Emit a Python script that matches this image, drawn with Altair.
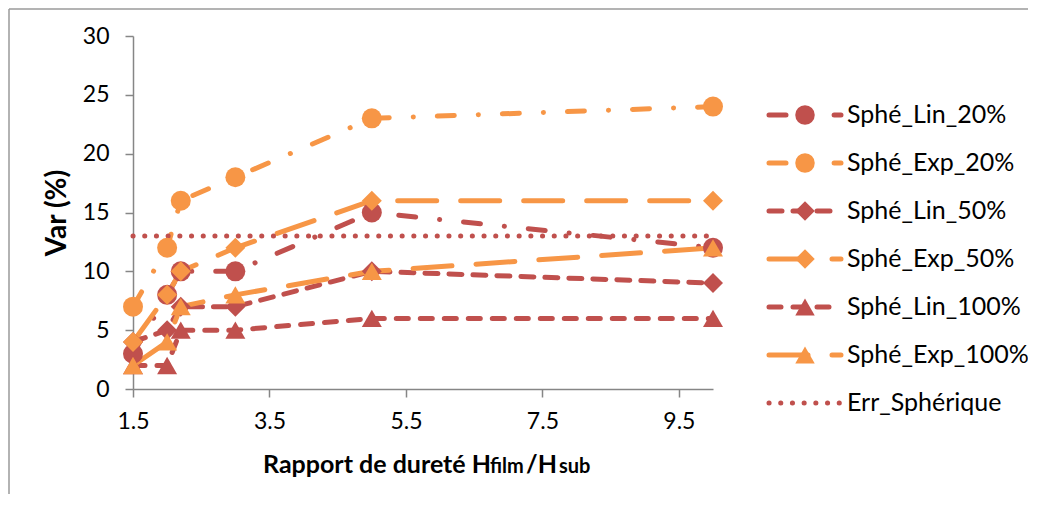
import altair as alt
import pandas as pd

# ---------------- data ----------------
x_vals = [1.5, 2.0, 2.2, 3.0, 5.0, 10.0]
series_names = ["Sphé_Lin_20%", "Sphé_Exp_20%", "Sphé_Lin_50%", "Sphé_Exp_50%",
                "Sphé_Lin_100%", "Sphé_Exp_100%", "Err_Sphérique"]
lin_20 = [3, 8, 10, 10, 15, 12]
exp_20 = [7, 12, 16, 18, 23, 24]
lin_50 = [4, 5, 7, 7, 10, 9]
exp_50 = [4, 8, 10, 12, 16, 16]
lin_100 = [2, 2, 5, 5, 6, 6]
exp_100 = [2, 4, 7, 8, 10, 12]
err_sph = [13, 13, 13, 13, 13, 13]
x_ticks = [1.5, 3.5, 5.5, 7.5, 9.5]
y_ticks = [0, 5, 10, 15, 20, 25, 30]
y_title = "Var (%)"
x_title_parts = ["Rapport de dureté H", "film", "/H", "sub"]

# ---------------- styles ----------------
RED = "#C0504D"
ORANGE = "#F79646"
AX = "#868686"
FONT = "Lato"
colors = [RED, ORANGE, RED, ORANGE, RED, ORANGE, RED]
dashes = [[17, 24, 0.1, 24], [17, 24, 0.1, 24], [13, 11], [39, 24],
          [12, 12], [39, 24], [0.1, 11.6]]
widths = [5, 5, 5, 5, 5, 5, 4]
marker_series = series_names[:6]
shapes = ["circle", "circle", "diamond", "diamond", "triangle-up", "triangle-up"]

values_by_series = [lin_20, exp_20, lin_50, exp_50, lin_100, exp_100, err_sph]
rows = []
for name, vals in zip(series_names, values_by_series):
    for xv, yv in zip(x_vals, vals):
        rows.append({"series": name, "x": xv, "y": yv})
df = pd.DataFrame(rows)
leg = pd.DataFrame({"series": series_names, "i": list(range(len(series_names)))})

W, H = 580, 353

color_scale = alt.Scale(domain=series_names, range=colors)
dash_scale = alt.Scale(domain=series_names, range=dashes)
width_scale = alt.Scale(domain=series_names, range=widths)
shape_scale = alt.Scale(domain=marker_series, range=shapes)

x_enc = alt.X("x:Q", scale=alt.Scale(domain=[1.5, 10], nice=False, zero=False),
              axis=alt.Axis(values=x_ticks, format=".1f", title=None,
                            labelPadding=13, labelFlush=False))
y_enc = alt.Y("y:Q", scale=alt.Scale(domain=[0, 30], nice=False),
              axis=alt.Axis(values=y_ticks, title=y_title, labelPadding=16,
                            labelFlush=False,
                            titleFontSize=28, titleFontWeight="bold",
                            titleX=-76, titleY=H / 2, titleAngle=-90,
                            titleAlign="center", titleBaseline="middle"))

lines = alt.Chart(df).mark_line(strokeCap="round", strokeJoin="round").encode(
    x=x_enc, y=y_enc,
    color=alt.Color("series:N", scale=color_scale, legend=None),
    strokeDash=alt.StrokeDash("series:N", scale=dash_scale, legend=None),
    strokeWidth=alt.StrokeWidth("series:N", scale=width_scale, legend=None),
    detail="series:N",
)
points = alt.Chart(df).transform_filter(
    alt.FieldOneOfPredicate(field="series", oneOf=marker_series)
).mark_point(filled=True, opacity=1, size=400, strokeWidth=0).encode(
    x=x_enc, y=y_enc,
    color=alt.Color("series:N", scale=color_scale, legend=None),
    shape=alt.Shape("series:N", scale=shape_scale, legend=None),
)
main = alt.layer(lines, points)

# ---------------- legend ----------------
d0 = -79 / 48
d1 = d0 + H / 48
ly = alt.Y("i:Q", scale=alt.Scale(domain=[d0, d1], reverse=True, nice=False, zero=False),
           axis=None)
leg_lines = alt.Chart(leg).mark_rule(strokeCap="round").encode(
    x=alt.value(636), x2=alt.value(708), y=ly,
    color=alt.Color("series:N", scale=color_scale, legend=None),
    strokeDash=alt.StrokeDash("series:N", scale=dash_scale, legend=None),
    strokeWidth=alt.StrokeWidth("series:N", scale=width_scale, legend=None),
)
leg_points = alt.Chart(leg).transform_filter(
    alt.FieldOneOfPredicate(field="series", oneOf=marker_series)
).mark_point(filled=True, opacity=1, size=380, strokeWidth=0).encode(
    x=alt.value(672), y=ly,
    color=alt.Color("series:N", scale=color_scale, legend=None),
    shape=alt.Shape("series:N", scale=shape_scale, legend=None),
)
leg_text = alt.Chart(leg).mark_text(align="left", baseline="middle", fontSize=25,
                                    font=FONT, color="black").encode(
    x=alt.value(714), y=ly, text="series:N")
legend = alt.layer(leg_lines, leg_points, leg_text)

# ---------------- x title (with small sub-parts) ----------------
def tpart(txt, xpx, size):
    return alt.Chart(pd.DataFrame({"t": [txt]})).mark_text(
        align="left", baseline="alphabetic", fontSize=size, fontWeight="bold",
        font=FONT, color="black").encode(x=alt.value(xpx), y=alt.value(437), text="t:N")

titles = alt.layer(
    tpart(x_title_parts[0], 130, 25),
    tpart(x_title_parts[1], 357, 20),
    tpart(x_title_parts[2], 393, 25),
    tpart(x_title_parts[3], 426, 20),
)

# ---------------- chart border (top and left visible) ----------------
bd = pd.DataFrame({"a": [0]})
border = alt.layer(
    alt.Chart(bd).mark_rule(color="#9a9a9a", strokeWidth=1.5).encode(
        x=alt.value(-124), y=alt.value(-27), y2=alt.value(H + 105)),
    alt.Chart(bd).mark_rule(color="#9a9a9a", strokeWidth=1.5).encode(
        x=alt.value(-124), x2=alt.value(W + 315), y=alt.value(-27)),
)

chart = alt.layer(main, legend, titles, border).resolve_scale(
    y="independent"
).properties(
    width=W, height=H,
    autosize=alt.AutoSizeParams(type="none"),
    padding={"left": 125, "top": 28, "right": 315, "bottom": 105},
).configure_view(stroke=None).configure_axis(
    grid=False, domainColor=AX, tickColor=AX, domainWidth=1.5, tickWidth=1.5,
    tickSize=8, labelFont=FONT, labelFontSize=23, labelColor="black",
    titleFont=FONT, titleColor="black",
)

chart.save("out.html", embed_options={"renderer": "svg", "actions": False})
